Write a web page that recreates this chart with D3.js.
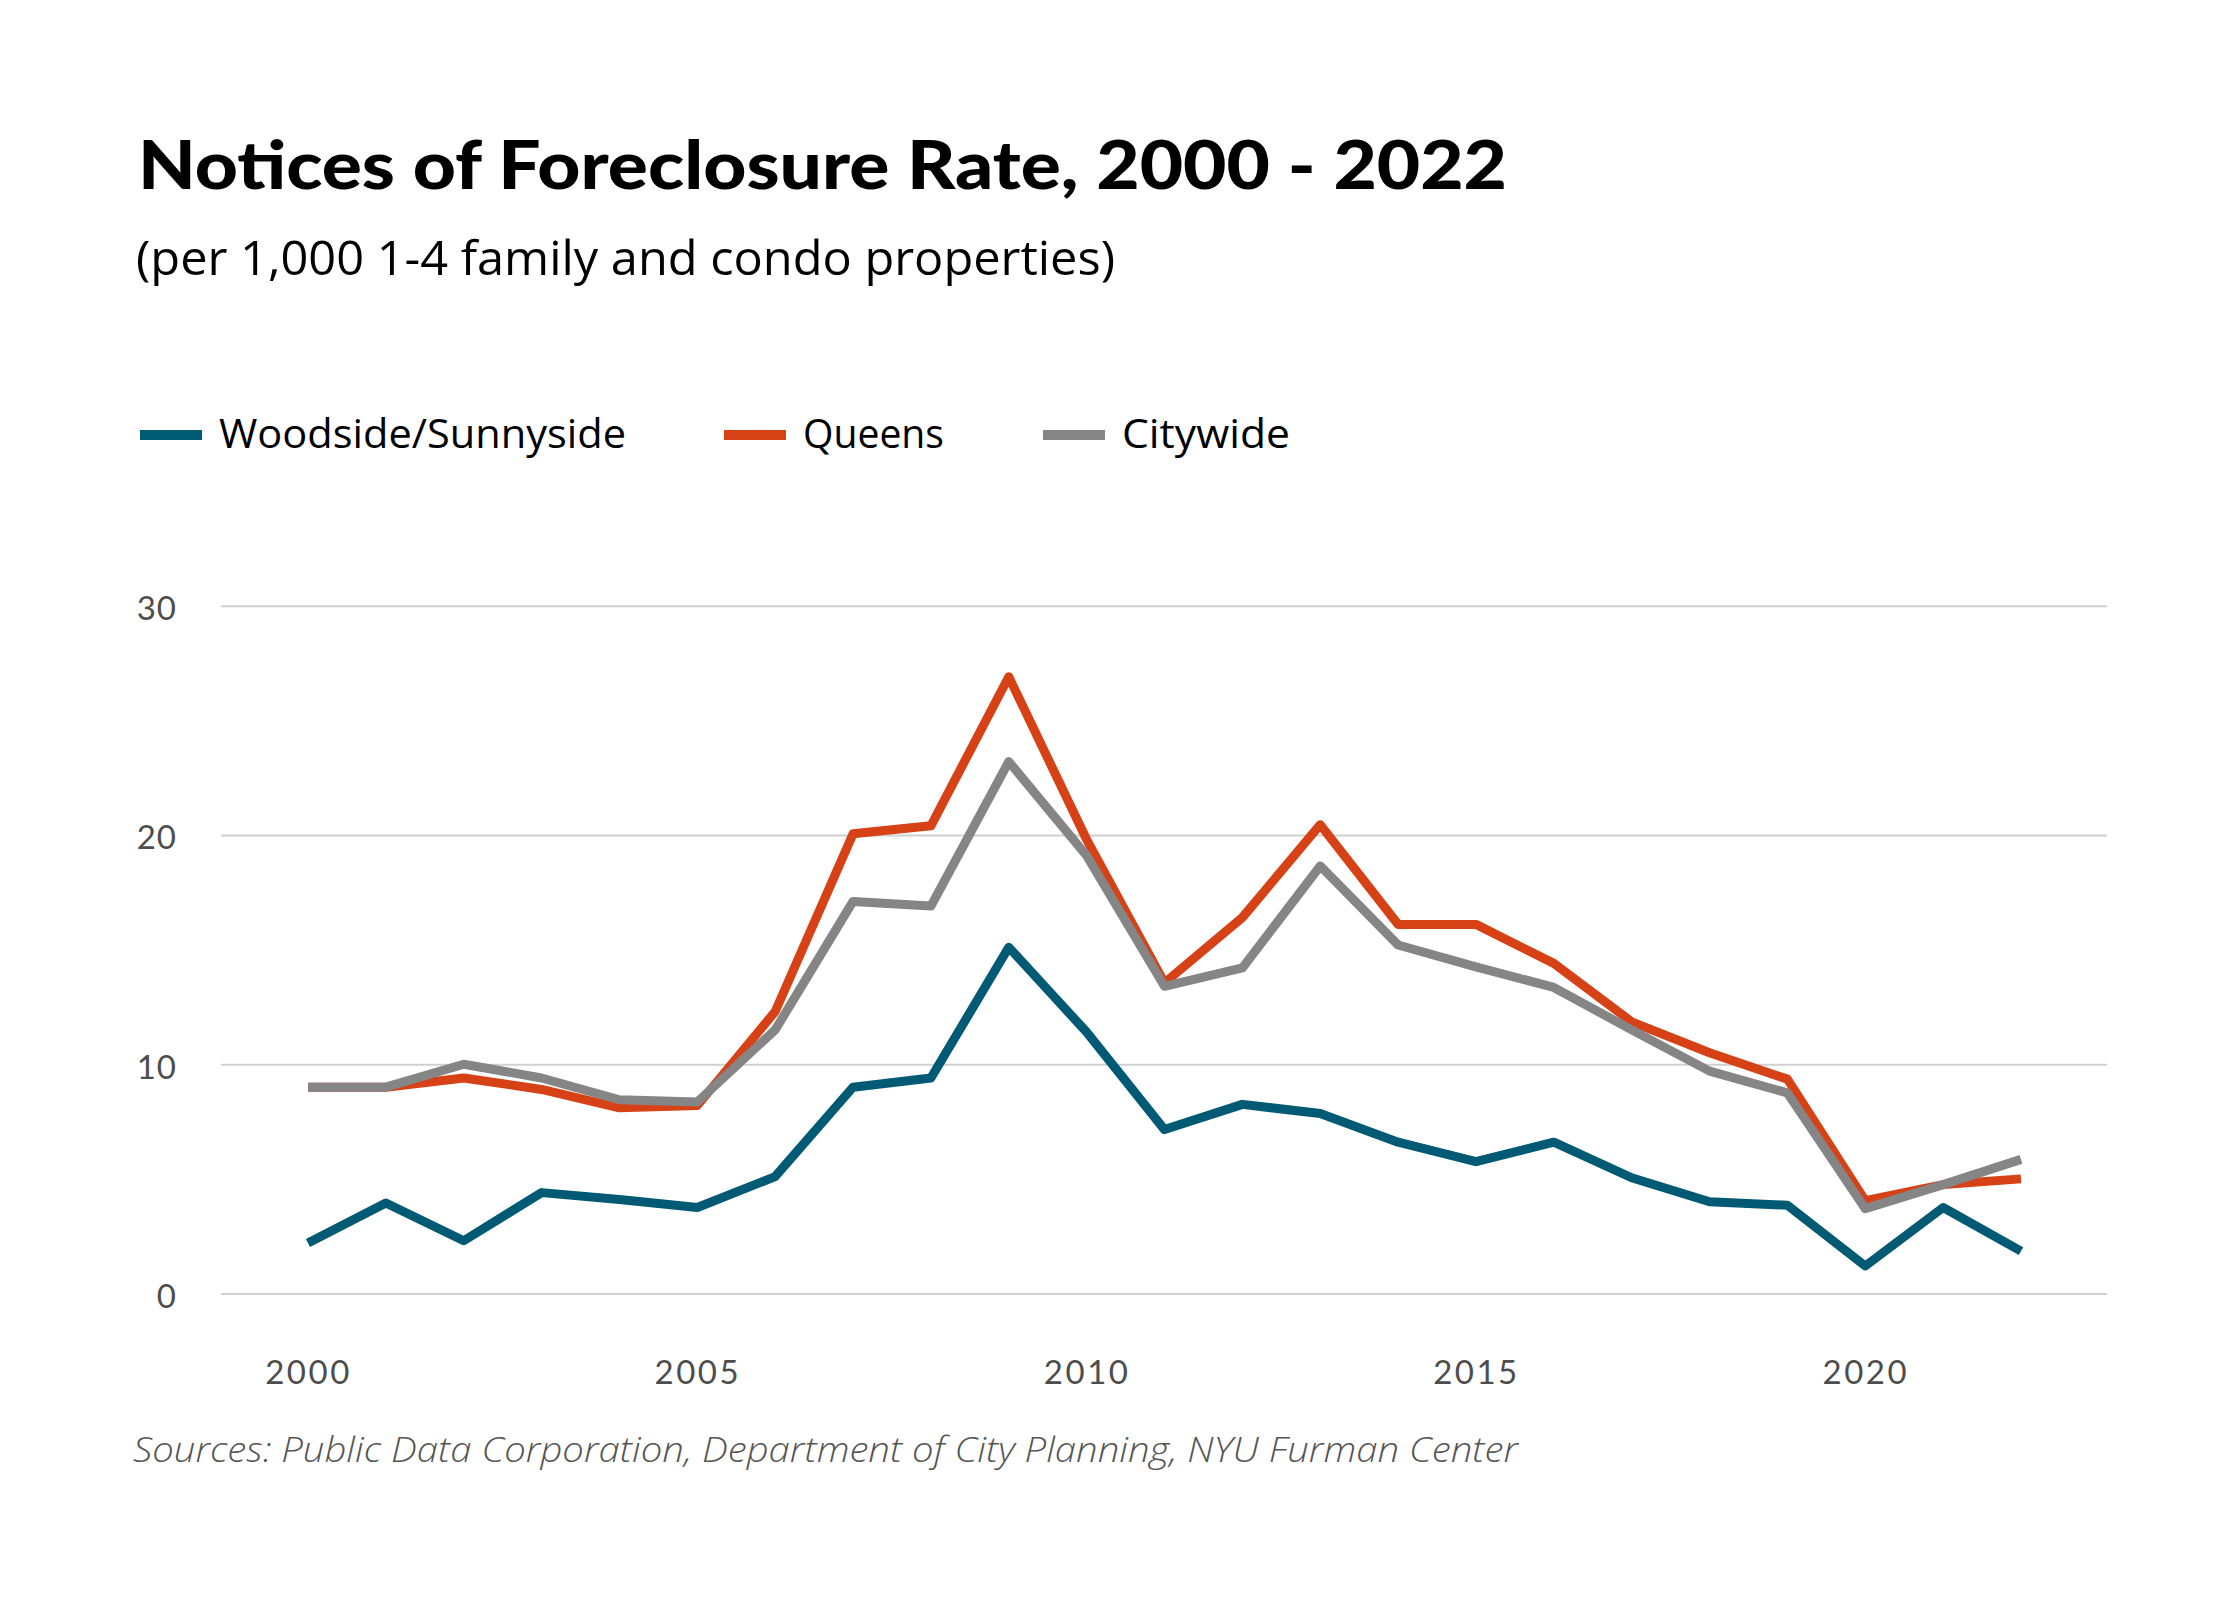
<!DOCTYPE html>
<html>
<head>
<meta charset="utf-8">
<script src="https://cdn.jsdelivr.net/npm/d3@7"></script>
<style>
  html, body { margin: 0; padding: 0; background: #ffffff; }
  svg { display: block; }
</style>
</head>
<body>
<div id="chart"></div>
<script>
// ---- Data ----
const years = [2000,2001,2002,2003,2004,2005,2006,2007,2008,2009,2010,2011,2012,2013,2014,2015,2016,2017,2018,2019,2020,2021,2022];
const woodside = [2.2,3.95,2.3,4.4,4.1,3.75,5.1,9.0,9.4,15.1,11.4,7.15,8.25,7.85,6.6,5.75,6.6,5.05,4.0,3.85,1.2,3.75,1.85];
const queens   = [9.0,9.0,9.4,8.9,8.1,8.2,12.3,20.05,20.4,26.9,19.8,13.55,16.4,20.45,16.1,16.1,14.4,11.85,10.5,9.35,4.05,4.75,5.0];
const citywide = [9.0,9.0,10.0,9.4,8.45,8.35,11.5,17.1,16.9,23.2,19.1,13.4,14.2,18.65,15.2,14.25,13.35,11.5,9.7,8.75,3.7,4.75,5.85];
const seriesNames = ["Woodside/Sunnyside","Queens","Citywide"];
const seriesColors = ["#005a73","#d64215","#858585"];
const yTicks = [0,10,20,30];
const xTicks = [2000,2005,2010,2015,2020];
const titleText = "Notices of Foreclosure Rate, 2000 - 2022";
const subtitleText = "(per 1,000 1-4 family and condo properties)";
const sourceText = "Sources: Public Data Corporation, Department of City Planning, NYU Furman Center";

// ---- Layout ----
const W = 2240, H = 1600;
const svg = d3.select("#chart").append("svg").attr("width", W).attr("height", H);
svg.append("rect").attr("width", W).attr("height", H).attr("fill", "#fff");

const x = d3.scaleLinear().domain([2000, 2022]).range([308, 2021]);
const y = d3.scaleLinear().domain([0, 30]).range([1293.5, 605.7]);
const gridLeft = 221, gridRight = 2107;

const bodyFont = "'Open Sans', 'Noto Sans', sans-serif";
const tickFont = "Lato, 'Open Sans', sans-serif";

// Title
svg.append("text")
  .attr("x", 138).attr("y", 189)
  .attr("font-family", "Lato, 'Open Sans', sans-serif")
  .attr("font-weight", 900).attr("font-size", 66)
  .attr("fill", "#000")
  .attr("textLength", 1369).attr("lengthAdjust", "spacingAndGlyphs")
  .text(titleText);

// Subtitle
svg.append("text")
  .attr("x", 136).attr("y", 275)
  .attr("font-family", bodyFont)
  .attr("font-weight", 400).attr("font-size", 48)
  .attr("fill", "#000")
  .attr("textLength", 979).attr("lengthAdjust", "spacingAndGlyphs")
  .text(subtitleText);

// Legend
const legendX = [140, 724, 1043];
const legendW = [407, 141, 168];
const leg = svg.append("g");
seriesNames.forEach((name, i) => {
  leg.append("rect")
    .attr("x", legendX[i]).attr("y", 430)
    .attr("width", 62).attr("height", 10)
    .attr("fill", seriesColors[i]);
  leg.append("text")
    .attr("x", legendX[i] + 79).attr("y", 448)
    .attr("font-family", bodyFont)
    .attr("font-size", 40).attr("fill", "#000")
    .attr("textLength", legendW[i]).attr("lengthAdjust", "spacingAndGlyphs")
    .text(name);
});

// Y axis with gridlines
const yAxis = d3.axisLeft(y)
  .tickValues(yTicks)
  .tickSize(-(gridRight - gridLeft))
  .tickPadding(44)
  .tickFormat(d3.format("d"));
const gy = svg.append("g").attr("transform", `translate(${gridLeft},0)`).call(yAxis);
gy.select(".domain").remove();
gy.selectAll(".tick line").attr("stroke", "#d0d0d0").attr("stroke-width", 2);
gy.selectAll(".tick text")
  .attr("font-family", tickFont).attr("font-size", 33)
  .attr("fill", "#4d4d4d").attr("dy", "0.42em")
  .attr("letter-spacing", 1);

// X axis labels
const xAxis = d3.axisBottom(x)
  .tickValues(xTicks)
  .tickSize(0)
  .tickPadding(67)
  .tickFormat(d3.format("d"));
const gx = svg.append("g").attr("transform", `translate(0,${y(0)})`).call(xAxis);
gx.select(".domain").remove();
gx.selectAll(".tick text")
  .attr("font-family", tickFont).attr("font-size", 33)
  .attr("fill", "#4d4d4d")
  .attr("letter-spacing", 2.5);

// Lines
const line = d3.line().x((d, i) => x(years[i])).y(d => y(d));
const allSeries = [woodside, queens, citywide];
allSeries.forEach((vals, i) => {
  svg.append("path")
    .datum(vals)
    .attr("d", line)
    .attr("fill", "none")
    .attr("stroke", seriesColors[i])
    .attr("stroke-width", 9)
    .attr("stroke-linejoin", "round")
    .attr("stroke-linecap", "butt");
});

// Source
svg.append("text")
  .attr("x", 133).attr("y", 1462)
  .attr("font-family", bodyFont)
  .attr("font-style", "italic").attr("font-weight", 300)
  .attr("font-size", 35).attr("fill", "#555")
  .attr("textLength", 1385).attr("lengthAdjust", "spacingAndGlyphs")
  .text(sourceText);
</script>
</body>
</html>
